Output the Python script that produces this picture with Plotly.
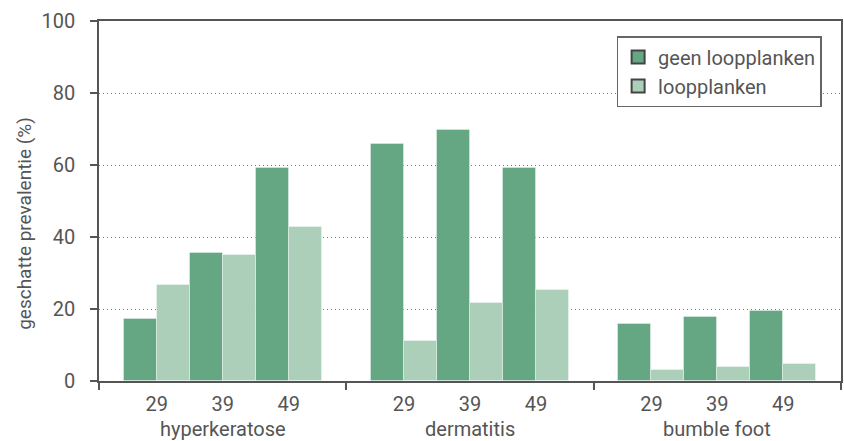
import plotly.graph_objects as go

groups = ["hyperkeratose", "dermatitis", "bumble foot"]
ages = ["29", "39", "49"]
geen_loopplanken = [17.1, 35.6, 59.3, 65.9, 69.6, 59.3, 15.7, 17.9, 19.4]
loopplanken = [26.8, 34.9, 42.9, 11.2, 21.6, 25.3, 3.1, 3.8, 4.6]
series_names = ["geen loopplanken", "loopplanken"]
y_ticks = [0, 20, 40, 60, 80, 100]

# layout constants (positions on a numeric axis)
GW = 3.75  # width of one group in category units
xpos = [g * GW + (i - 1) for g in range(len(groups)) for i in range(len(ages))]
tick_text = [a for g in groups for a in ages]
dividers = [(g - 0.5) * GW for g in range(len(groups) + 1)]

DARK = "#64a782"
LIGHT = "#accfba"
TXT = "#555555"
FONT = "Roboto"
FS = 20

fig = go.Figure()
fig.add_trace(go.Bar(x=xpos, y=geen_loopplanken, name=series_names[0], showlegend=False,
                     marker=dict(color=DARK, line=dict(color="rgba(255,255,255,0.35)", width=1))))
fig.add_trace(go.Bar(x=xpos, y=loopplanken, name=series_names[1], showlegend=False,
                     marker=dict(color=LIGHT, line=dict(color="rgba(255,255,255,0.35)", width=1))))
# legend entries
for nm, col in zip(series_names, [DARK, LIGHT]):
    fig.add_trace(go.Scatter(x=[None], y=[None], mode="markers", name=nm,
                             marker=dict(symbol="square", size=13, color=col,
                                         line=dict(color="#444444", width=2))))

for g, name in enumerate(groups):
    fig.add_annotation(x=g * GW, y=0, xref="x", yref="paper", text=name, showarrow=False,
                       yshift=-48, yanchor="middle", font=dict(family=FONT, size=FS, color=TXT))

fig.add_annotation(x=-0.0995, y=0.437, xref="paper", yref="paper", text="geschatte prevalentie (%)",
                   textangle=-90, showarrow=False, xanchor="center", yanchor="middle",
                   font=dict(family=FONT, size=FS - 1, color=TXT))

fig.update_layout(
    width=844, height=441,
    margin=dict(l=99, r=1, t=21, b=60),
    paper_bgcolor="white", plot_bgcolor="white",
    barmode="group", bargap=0, bargroupgap=0,
    font=dict(family=FONT, size=FS, color=TXT),
    legend=dict(x=0.6976, y=0.958, xanchor="left", yanchor="top",
                bordercolor="#666666", borderwidth=1.5, bgcolor="white",
                font=dict(family=FONT, size=FS, color=TXT), tracegroupgap=0),
    xaxis=dict(range=[-GW / 2, 2.5 * GW], showgrid=False, zeroline=False,
               showline=True, linecolor="#555555", linewidth=1.5, mirror=True,
               tickmode="array", tickvals=xpos, ticktext=tick_text, ticks="",
               ticklabelstandoff=4,
               tickfont=dict(family=FONT, size=FS, color=TXT),
               minor=dict(tickmode="array", tickvals=dividers, ticks="outside",
                          ticklen=7, tickcolor="#555555", tickwidth=1.5, showgrid=False)),
    yaxis=dict(range=[0, 100], tickmode="array", tickvals=y_ticks, ticks="outside",
               ticklen=7, tickcolor="#555555", tickwidth=1.5,
               showline=True, linecolor="#555555", linewidth=1.5, mirror=True,
               showgrid=True, gridcolor="#777777", griddash="1px,3px", gridwidth=1,
               zeroline=False, ticklabelstandoff=11,
               tickfont=dict(family=FONT, size=FS, color=TXT)),
)

fig.write_html("out.html", config={"displayModeBar": False},
               post_script="document.body.style.margin='0px';")
